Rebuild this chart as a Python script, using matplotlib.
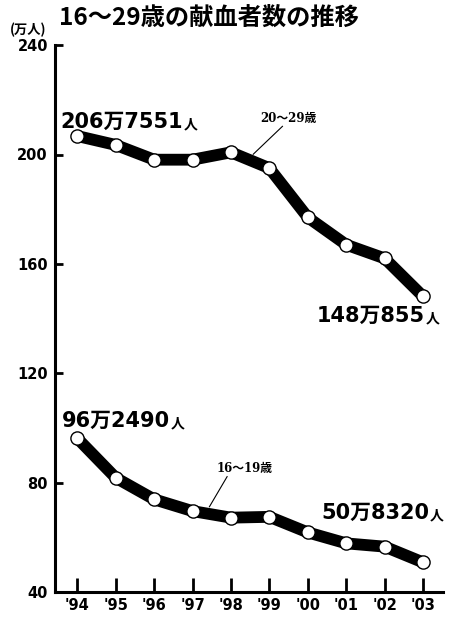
import matplotlib
matplotlib.use("Agg")
import matplotlib.pyplot as plt

plt.rcParams['font.family'] = ['Noto Sans CJK JP', 'DejaVu Sans']

years = [1994, 1995, 1996, 1997, 1998, 1999, 2000, 2001, 2002, 2003]
year_labels = ["'94", "'95", "'96", "'97", "'98", "'99", "'00", "'01", "'02", "'03"]
age20_29 = [206.76, 203.5, 198.1, 198.1, 200.8, 195.0, 177.0, 167.0, 162.0, 148.09]
age16_19 = [96.25, 81.8, 73.9, 69.6, 67.2, 67.5, 61.8, 57.8, 56.6, 50.83]
yticks = [40, 80, 120, 160, 200, 240]
title = "16～29歳の献血者数の推移"
unit = "(万人)"
series_names = ["20～29歳", "16～19歳"]
end_labels = [("206万7551", "148万855"), ("96万2490", "50万8320")]

fig = plt.figure(figsize=(4.54, 6.18), dpi=100)
ax = fig.add_axes([0.121, 0.042, 0.855, 0.885])
ax.set_xlim(1993.42, 2003.52)
ax.set_ylim(40, 240)

for vals in (age20_29, age16_19):
    ax.plot(years, vals, color='black', lw=8.5, solid_joinstyle='round',
            solid_capstyle='round', zorder=2)
    ax.plot(years, vals, linestyle='none', marker='o', ms=9.5,
            mfc='white', mec='black', mew=1.0, zorder=3)

for s in ['top', 'right']:
    ax.spines[s].set_visible(False)
ax.spines['left'].set_linewidth(2.2)
ax.spines['bottom'].set_linewidth(2.2)
ax.set_yticks(yticks)
ax.set_yticklabels([str(v) for v in yticks], fontweight='bold', fontsize=10.5,
                   family=['DejaVu Sans'])
ax.set_xticks(years)
ax.set_xticklabels(year_labels, fontweight='bold', fontsize=10.5, family=['DejaVu Sans'])
ax.tick_params(axis='y', direction='in', length=6, width=2, pad=5)
ax.tick_params(axis='x', direction='in', length=10, width=2, pad=4)

fig.text(0.13, 0.972, title, fontsize=17.5, fontweight='bold', va='center', ha='left')
fig.text(0.022, 0.952, unit, fontsize=9.5, fontweight='bold', va='center', ha='left')

serif = ['DejaVu Serif', 'Noto Sans CJK JP']
ax.text(1999.5, 213.3, series_names[0], fontsize=8.5, fontweight='bold', ha='center',
        va='center', family=serif)
ax.plot([1999.34, 1998.58], [210.3, 200.1], color='black', lw=0.8, zorder=1)
ax.text(1998.35, 85.1, series_names[1], fontsize=8.5, fontweight='bold', ha='center',
        va='center', family=serif)
ax.plot([1997.9, 1997.44], [82.2, 71.2], color='black', lw=0.8, zorder=1)

big_font = dict(fontsize=15, fontweight='bold', va='baseline',
                family=['DejaVu Sans', 'Noto Sans CJK JP'])
nin_font = dict(fontsize=10, fontweight='bold', va='baseline')

fig.canvas.draw()
renderer = fig.canvas.get_renderer()
inv = fig.transFigure.inverted()

def left_label(px, py, s):
    x, y = inv.transform((px, 618 - py))
    t = fig.text(x, y, s, ha='left', **big_font)
    bb = t.get_window_extent(renderer)
    x1, _ = inv.transform((bb.x1 + 1, 0))
    fig.text(x1, y, "人", ha='left', **nin_font)

def right_label(px, py, s):
    x, y = inv.transform((px, 618 - py))
    n = fig.text(x, y, "人", ha='right', **nin_font)
    bb = n.get_window_extent(renderer)
    x0, _ = inv.transform((bb.x0 - 1, 0))
    fig.text(x0, y, s, ha='right', **big_font)

left_label(60, 128, end_labels[0][0])
right_label(440, 322, end_labels[0][1])
left_label(62, 427, end_labels[1][0])
right_label(444, 519, end_labels[1][1])

fig.savefig("out.png", dpi=100)
